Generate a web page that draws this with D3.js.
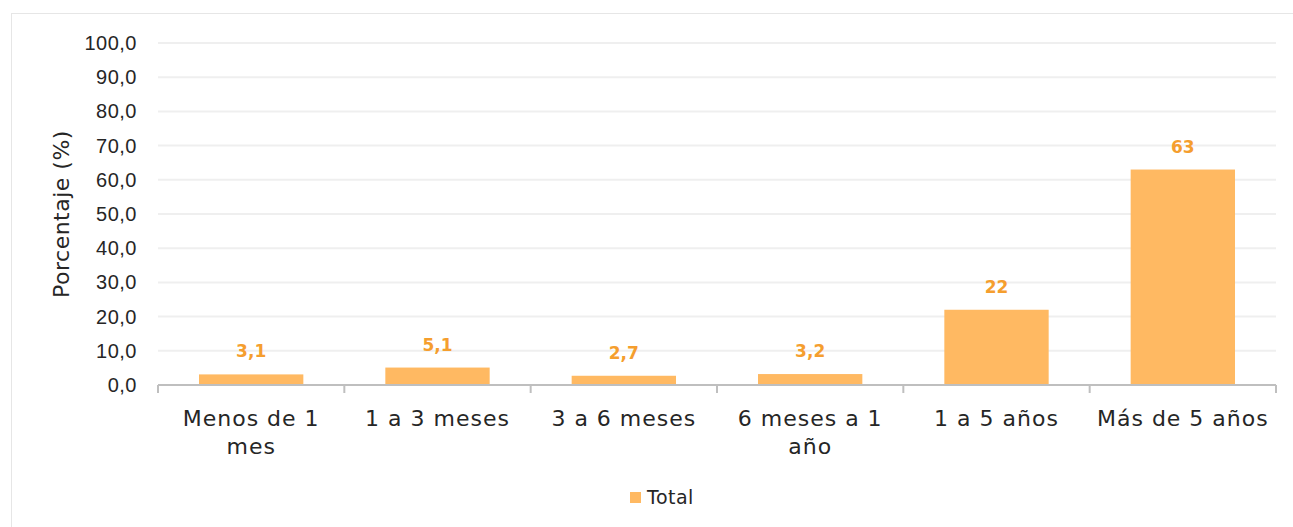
<!DOCTYPE html>
<html>
<head>
<meta charset="utf-8">
<script src="https://cdn.jsdelivr.net/npm/d3@7"></script>
<style>
  body { margin: 0; background: #fff; }
  svg { display: block; font-family: 'DejaVu Sans', sans-serif; }
</style>
</head>
<body>
<svg id="chart" width="1293" height="527"></svg>
<script>
// data
const categories = [['Menos de 1', 'mes'], ['1 a 3 meses'], ['3 a 6 meses'], ['6 meses a 1', 'año'], ['1 a 5 años'], ['Más de 5 años']]
const values = [3.1, 5.1, 2.7, 3.2, 22, 63]
const valueLabels = ['3,1', '5,1', '2,7', '3,2', '22', '63']
const yTicks = [0, 10, 20, 30, 40, 50, 60, 70, 80, 90, 100]
const seriesName = 'Total'

const svg = d3.select('#chart')
const margin = { top: 43, left: 158, right: 17, bottom: 142 }
const width = 1293 - margin.left - margin.right
const height = 527 - margin.top - margin.bottom

// chart frame
svg.append('rect')
  .attr('x', 11.5).attr('y', 13.5)
  .attr('width', 1300).attr('height', 530)
  .attr('fill', 'none').attr('stroke', '#e6e6e6')

const g = svg.append('g').attr('transform', `translate(${margin.left},${margin.top})`)

const x = d3.scaleBand().domain(d3.range(values.length)).range([0, width]).paddingInner(0.44).paddingOuter(0.22)
const y = d3.scaleLinear().domain([0, 100]).range([height, 0])

// gridlines
g.append('g')
  .selectAll('line')
  .data(yTicks.filter(d => d > 0))
  .join('line')
  .attr('x1', 0).attr('x2', width)
  .attr('y1', d => y(d)).attr('y2', d => y(d))
  .attr('stroke', '#efefef').attr('stroke-width', 2)

// y axis labels
g.append('g')
  .call(d3.axisLeft(y).tickValues(yTicks).tickSize(0).tickPadding(21)
    .tickFormat(d => d3.format('.1f')(d).replace('.', ',')))
  .call(a => a.select('.domain').remove())
  .selectAll('text')
  .attr('font-size', 20).attr('letter-spacing', 0.5).attr('fill', '#262626')

// bars
g.selectAll('rect.bar')
  .data(values)
  .join('rect')
  .attr('class', 'bar')
  .attr('x', (d, i) => x(i))
  .attr('width', x.bandwidth())
  .attr('y', d => y(d))
  .attr('height', d => height - y(d))
  .attr('fill', '#ffb962')

// value labels
g.selectAll('text.val')
  .data(values)
  .join('text')
  .attr('class', 'val')
  .attr('x', (d, i) => x(i) + x.bandwidth() / 2)
  .attr('y', d => y(d) - 17)
  .attr('text-anchor', 'middle')
  .attr('font-size', 17).attr('font-weight', 'bold')
  .attr('fill', '#f59e2e')
  .text((d, i) => valueLabels[i])

// x axis
const step = width / values.length
const xAxis = g.append('g').attr('transform', `translate(0,${height})`)
xAxis.append('line')
  .attr('x1', 0).attr('x2', width)
  .attr('stroke', '#bfbfbf').attr('stroke-width', 2)
xAxis.selectAll('line.tick')
  .data(d3.range(values.length + 1))
  .join('line')
  .attr('class', 'tick')
  .attr('x1', d => d * step).attr('x2', d => d * step)
  .attr('y1', 0).attr('y2', 8)
  .attr('stroke', '#bfbfbf').attr('stroke-width', 2)

xAxis.selectAll('text.cat')
  .data(categories)
  .join('text')
  .attr('class', 'cat')
  .attr('text-anchor', 'middle')
  .attr('font-size', 22).attr('letter-spacing', 1).attr('fill', '#262626')
  .attr('transform', (d, i) => `translate(${x(i) + x.bandwidth() / 2},41)`)
  .selectAll('tspan')
  .data(d => d)
  .join('tspan')
  .attr('x', 0)
  .attr('dy', (d, j) => j === 0 ? 0 : 28)
  .text(d => d)

// y axis title
svg.append('text')
  .attr('transform', `translate(69,${margin.top + height / 2}) rotate(-90)`)
  .attr('text-anchor', 'middle')
  .attr('font-size', 22).attr('letter-spacing', 0.5).attr('fill', '#262626')
  .text('Porcentaje (%)')

// legend
const legend = svg.append('g').attr('transform', 'translate(630,492)')
legend.append('rect').attr('width', 11).attr('height', 11).attr('fill', '#ffb962')
legend.append('text')
  .attr('x', 17).attr('y', 12)
  .attr('font-size', 19).attr('letter-spacing', 0.5).attr('fill', '#262626')
  .text(seriesName)
</script>
</body>
</html>
